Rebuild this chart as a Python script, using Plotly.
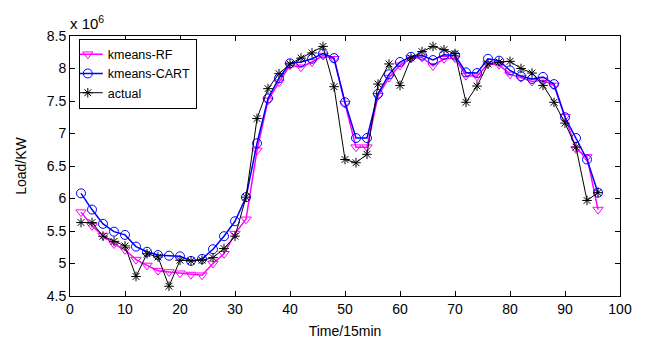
import plotly.graph_objects as go

time = list(range(2, 98, 2))

rf = [5.79, 5.58, 5.43, 5.30, 5.21, 5.06, 4.97, 4.89, 4.87, 4.85, 4.83, 4.82, 5.00, 5.15, 5.46, 5.68,
      6.74, 7.51, 7.79, 8.05, 8.02, 8.10, 8.20, 8.15, 7.46, 6.79, 6.79, 7.58, 7.86, 8.05, 8.16, 8.17,
      8.04, 8.15, 8.16, 7.89, 7.88, 8.07, 8.06, 7.91, 7.86, 7.80, 7.82, 7.74, 7.26, 6.76, 6.64, 5.83]

cart = [6.08, 5.83, 5.61, 5.49, 5.44, 5.26, 5.18, 5.13, 5.12, 5.11, 5.04, 5.07, 5.22, 5.42, 5.65, 6.02,
        6.85, 7.54, 7.85, 8.08, 8.10, 8.15, 8.23, 8.16, 7.48, 6.93, 6.93, 7.61, 7.91, 8.10, 8.18, 8.20,
        8.13, 8.21, 8.20, 7.94, 7.93, 8.15, 8.12, 7.97, 7.88, 7.84, 7.87, 7.76, 7.25, 6.93, 6.60, 6.09]

actual = [5.63, 5.63, 5.42, 5.34, 5.27, 4.80, 5.15, 5.10, 4.65, 5.05, 5.04, 5.05, 5.09, 5.23, 5.42, 6.02,
          7.23, 7.69, 7.92, 8.07, 8.16, 8.24, 8.34, 7.72, 6.60, 6.55, 6.68, 7.76, 8.07, 7.74, 8.16, 8.26,
          8.34, 8.29, 8.23, 7.48, 7.73, 8.07, 8.10, 8.11, 8.00, 7.93, 7.74, 7.48, 7.16, 6.79, 5.97, 6.09]

x_ticks = list(range(0, 101, 10))
y_ticks = [4.5, 5, 5.5, 6, 6.5, 7, 7.5, 8, 8.5]
y_labels = ["4.5", "5", "5.5", "6", "6.5", "7", "7.5", "8", "8.5"]

FONT = "Liberation Sans, Arial, sans-serif"

fig = go.Figure()
fig.add_trace(go.Scatter(x=time, y=rf, mode="lines+markers", name="kmeans-RF",
                         line=dict(color="#ff00ff", width=1.5),
                         marker=dict(symbol="triangle-down-open", size=9, color="#ff00ff", line=dict(width=1))))
fig.add_trace(go.Scatter(x=time, y=cart, mode="lines+markers", name="kmeans-CART",
                         line=dict(color="#0000ff", width=1.5),
                         marker=dict(symbol="circle-open", size=9, color="#0000ff", line=dict(width=1))))
fig.add_trace(go.Scatter(x=time, y=actual, mode="lines+markers", name="actual",
                         line=dict(color="#000000", width=1),
                         marker=dict(symbol="asterisk-open", size=8, color="#000000", line=dict(width=1))))

axis_common = dict(showline=True, linecolor="black", linewidth=1, mirror="ticks",
                   ticks="inside", ticklen=5, tickcolor="black", showgrid=False, zeroline=False,
                   automargin=False,
                   tickfont=dict(family=FONT, size=14, color="black"))

fig.update_xaxes(range=[0, 100], tickvals=x_ticks,
                 title=dict(text="Time/15min", font=dict(family=FONT, size=14, color="black"), standoff=10),
                 **axis_common)
fig.update_yaxes(range=[4.5, 8.5], tickvals=y_ticks, ticktext=y_labels,
                 title=dict(text="Load/KW", font=dict(family=FONT, size=14, color="black"), standoff=16),
                 **axis_common)

fig.add_annotation(text="x 10<sup>6</sup>", xref="paper", yref="paper", x=0.0, y=1.0,
                   xanchor="left", yanchor="bottom", showarrow=False, xshift=-2, yshift=2,
                   font=dict(family=FONT, size=15, color="black"))

fig.update_layout(
    width=638, height=340,
    margin=dict(l=62, r=26, t=28, b=52),
    paper_bgcolor="white", plot_bgcolor="white",
    showlegend=True,
    legend=dict(x=0.016, y=0.99, xanchor="left", yanchor="top",
                bgcolor="white", bordercolor="black", borderwidth=1,
                font=dict(family=FONT, size=12.5, color="black"),
                itemwidth=30, tracegroupgap=0, indentation=-12),
)

fig.write_html("out.html")
